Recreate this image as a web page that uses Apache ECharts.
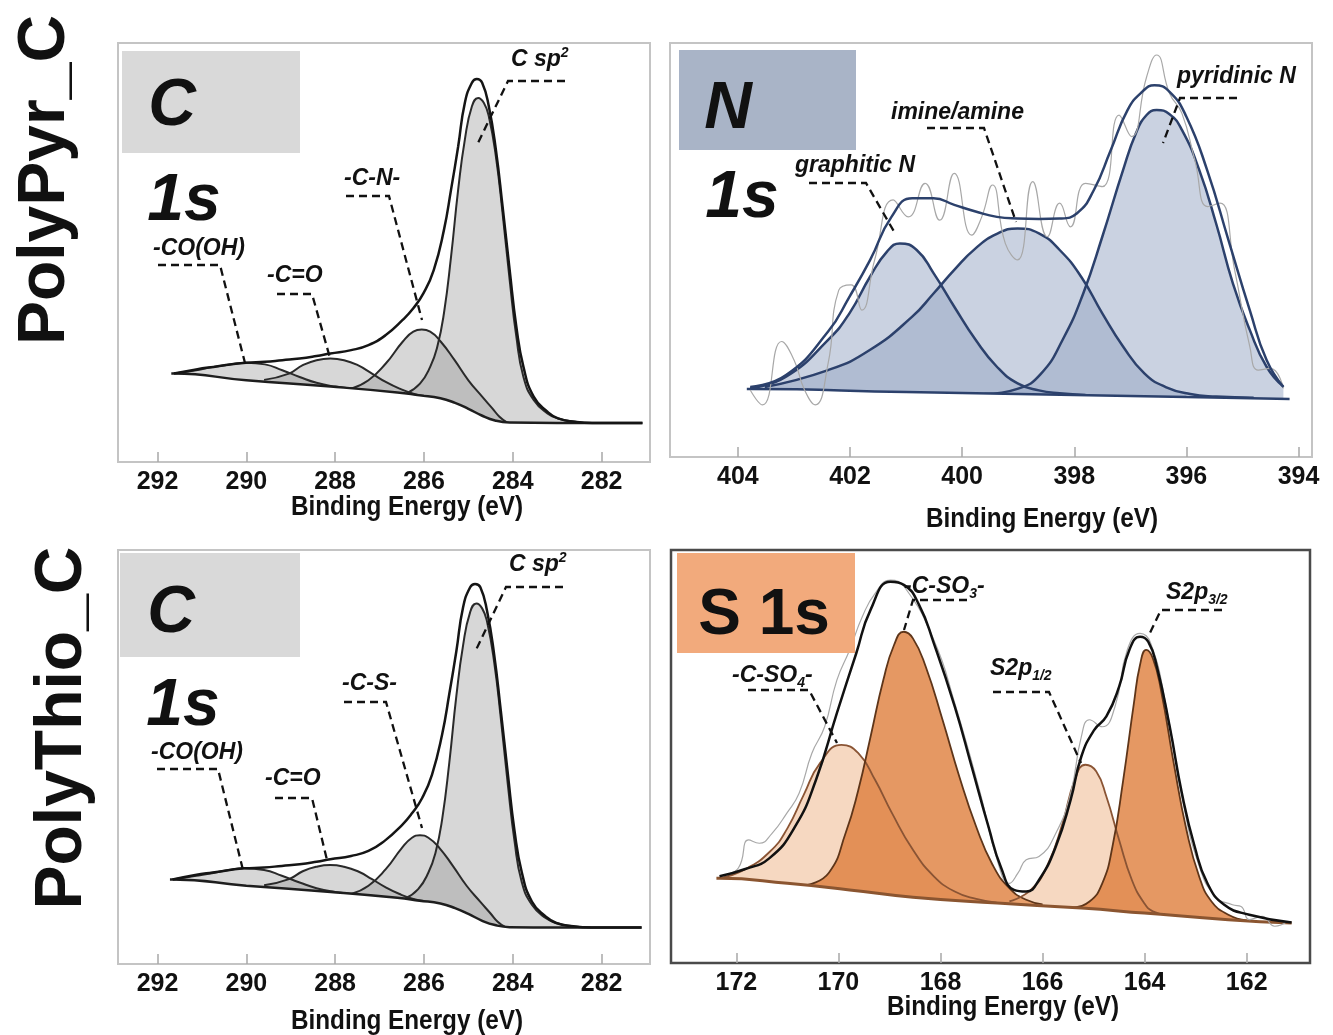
<!DOCTYPE html>
<html>
<head>
<meta charset="utf-8">
<title>XPS C1s / N1s / S2p</title>
<script src="https://cdn.jsdelivr.net/npm/echarts@6/dist/echarts.min.js"></script>
<style>
  html, body { margin: 0; padding: 0; background: #fff; }
  #chart { width: 1333px; height: 1035px; }
</style>
</head>
<body>
<div id="chart"></div>
<script>
// binding energy (eV) vs intensity (a.u., 0-100 of panel height)

const cTicks = [292, 290, 288, 286, 284, 282];
const nTicks = [404, 402, 400, 398, 396, 394];
const sTicks = [172, 170, 168, 166, 164, 162];

// PolyPyr_C  C 1s
const pyrC_bkg = [[291.69,21.1],[291.63,21.1],[290.0,19.5],[288.1,18.0],[286.6,16.6],[286.1,15.9],[285.63,15.2],[285.3,14.1],[285.0,12.7],[284.7,11.1],[284.4,9.9],[284.07,9.4],[283.0,9.3],[281.08,9.3]];
const pyrC_cooh = [[291.63,21.1],[291.13,21.9],[290.74,22.7],[290.36,23.3],[290.0,23.7],[289.58,23.3],[289.19,21.9],[288.8,20.3],[288.42,18.9],[288.0,18.0],[287.6,17.5],[287.2,17.1]];
const pyrC_co = [[289.6,19.6],[289.04,21.1],[288.73,23.1],[288.42,24.3],[288.11,24.7],[287.8,24.3],[287.49,23.1],[287.17,21.1],[286.86,19.1],[286.55,17.5],[286.24,16.3],[286.0,15.8]];
const pyrC_cn = [[287.64,17.5],[287.25,19.5],[286.86,23.5],[286.48,28.7],[286.24,31.1],[286.05,31.6],[285.86,31.1],[285.62,28.7],[285.31,24.3],[285.0,19.5],[284.69,15.6],[284.46,12.8],[284.3,10.8],[284.15,9.6]];
const pyrC_sp2 = [[286.4,16.3],[286.09,18.7],[285.86,22.7],[285.7,27.5],[285.55,35.5],[285.39,49.0],[285.23,65.0],[285.08,76.9],[284.92,84.9],[284.78,86.9],[284.65,85.7],[284.54,82.5],[284.38,72.9],[284.23,59.4],[284.07,43.4],[283.92,29.9],[283.76,20.3],[283.53,14.8],[283.22,11.6],[282.98,10.4],[282.6,9.6],[282.21,9.3]];
const pyrC_env = [[291.63,21.1],[291.13,22.1],[290.74,22.7],[290.01,23.7],[289.58,23.9],[289.19,24.3],[288.8,24.7],[288.42,25.3],[288.11,25.9],[287.64,26.7],[287.25,27.9],[286.86,30.3],[286.48,33.9],[286.24,36.7],[286.01,40.3],[285.78,45.8],[285.55,55.4],[285.39,65.0],[285.23,75.3],[285.08,85.7],[284.92,90.5],[284.81,91.4],[284.69,90.5],[284.54,84.9],[284.38,74.5],[284.23,61.0],[284.07,45.8],[283.92,32.3],[283.76,22.7],[283.53,15.6],[283.22,12.0],[282.98,10.4],[282.6,9.6],[282.21,9.3],[281.08,9.3]];

// PolyPyr_C  N 1s
const pyrN_bkg = [[403.84,16.4],[403.78,16.4],[401.0,15.7],[398.0,15.0],[396.0,14.5],[394.16,14.0]];
const pyrN_graph = [[403.78,16.6],[403.14,19.4],[402.39,28.3],[402.01,34.7],[401.64,43.6],[401.34,49.6],[401.11,51.6],[400.81,50.0],[400.51,44.4],[400.14,36.3],[399.76,28.3],[399.38,21.8],[399.01,17.8],[398.63,16.1],[398.26,15.4],[397.8,15.0]];
const pyrN_imine = [[403.52,16.9],[402.39,21.0],[401.64,25.9],[400.89,33.9],[400.51,39.5],[400.14,45.2],[399.76,50.4],[399.38,53.9],[399.01,55.2],[398.63,54.0],[398.26,50.0],[397.88,43.6],[397.5,34.7],[397.13,26.7],[396.75,20.2],[396.37,16.9],[395.93,15.2],[395.47,14.6],[394.8,14.3]];
const pyrN_pyrid = [[399.6,15.2],[399.0,16.5],[398.6,20.0],[398.2,28.5],[397.84,39.5],[397.5,53.2],[397.13,69.3],[396.9,78.2],[396.71,82.6],[396.53,83.8],[396.3,82.8],[396.08,79.0],[395.77,69.3],[395.47,56.4],[395.17,41.9],[394.87,30.7],[394.57,21.8],[394.27,17.0]];
const pyrN_env = [[403.78,16.9],[403.14,19.8],[402.39,30.3],[402.01,38.7],[401.64,47.6],[401.26,58.0],[400.89,62.5],[400.51,62.5],[400.14,60.9],[399.76,59.3],[399.38,58.0],[399.01,57.6],[398.63,57.5],[398.26,57.6],[397.95,58.9],[397.65,64.5],[397.35,74.1],[397.05,83.8],[396.79,88.2],[396.57,89.8],[396.3,88.2],[396.0,82.2],[395.63,69.3],[395.25,52.4],[394.87,35.5],[394.57,23.4],[394.27,16.9]];
const pyrN_raw = [[403.78,16.2],[403.56,12.6],[403.22,27.9],[403.0,23.5],[402.81,16.2],[402.62,12.6],[402.39,22.6],[402.2,40.3],[401.98,41.6],[401.79,35.5],[401.56,47.6],[401.23,62.1],[400.96,58.0],[400.66,66.1],[400.4,57.2],[400.14,68.5],[399.83,53.6],[399.65,58.0],[399.46,65.7],[399.23,51.6],[399.01,47.6],[398.74,66.5],[398.48,53.2],[398.26,61.3],[398.07,55.6],[397.8,66.1],[397.5,65.3],[397.2,82.6],[396.98,77.4],[396.71,91.8],[396.53,97.1],[396.3,87.8],[396.08,83.0],[395.85,71.7],[395.62,60.5],[395.4,61.3],[395.14,45.2],[394.87,26.7],[394.72,21.0],[394.5,21.4],[394.27,16.6]];

// PolyThio_C  C 1s
const thiC_bkg = [[291.72,20.4],[291.66,20.4],[290.0,18.9],[288.1,17.4],[286.6,16.0],[286.1,15.3],[285.63,14.6],[285.3,13.5],[285.0,12.1],[284.7,10.5],[284.4,9.4],[284.07,8.9],[283.0,8.8],[281.1,8.8]];
const thiC_cooh = [[291.66,20.4],[291.13,21.3],[290.74,22.0],[290.4,22.7],[290.05,23.1],[289.6,22.7],[289.2,21.3],[288.8,19.7],[288.42,18.3],[288.0,17.4],[287.6,16.9],[287.2,16.5]];
const thiC_co = [[289.6,19.0],[289.04,20.5],[288.73,22.4],[288.42,23.5],[288.11,23.9],[287.8,23.5],[287.49,22.4],[287.17,20.5],[286.86,18.5],[286.55,16.9],[286.24,15.7],[286.0,15.2]];
const thiC_cs = [[287.64,16.9],[287.25,18.9],[286.86,22.9],[286.5,28.0],[286.27,30.5],[286.09,31.1],[285.9,30.5],[285.65,28.0],[285.35,23.7],[285.04,18.9],[284.73,15.0],[284.5,12.2],[284.34,10.2],[284.18,9.0]];
const thiC_sp2 = [[286.44,15.7],[286.13,18.1],[285.9,22.1],[285.74,26.9],[285.59,35.0],[285.43,48.6],[285.27,64.8],[285.12,76.9],[284.96,85.0],[284.82,87.1],[284.69,85.9],[284.58,82.7],[284.42,73.0],[284.27,59.4],[284.11,43.2],[283.96,29.6],[283.8,19.9],[283.57,14.3],[283.26,11.1],[283.02,9.9],[282.64,9.1],[282.25,8.8]];
const thiC_env = [[291.66,20.4],[291.15,21.5],[290.76,22.1],[290.05,23.1],[289.6,23.3],[289.2,23.7],[288.8,24.1],[288.42,24.7],[288.11,25.3],[287.64,26.1],[287.25,27.3],[286.88,29.8],[286.5,33.5],[286.27,36.4],[286.04,40.1],[285.82,45.7],[285.59,55.5],[285.43,65.2],[285.27,75.6],[285.12,86.1],[284.96,91.0],[284.85,91.8],[284.73,91.0],[284.58,85.3],[284.42,74.8],[284.27,61.2],[284.11,45.8],[283.96,32.1],[283.8,22.3],[283.57,15.1],[283.26,11.5],[283.02,9.9],[282.64,9.1],[282.25,8.8],[281.1,8.8]];

// PolyThio_C  S 2p
const thiS_bkg = [[172.39,20.5],[172.33,20.5],[171.0,19.3],[169.78,17.7],[168.54,15.9],[166.89,14.5],[165.24,13.3],[164.01,12.1],[162.36,10.5],[161.12,9.7]];
const thiS_so4 = [[172.33,20.5],[171.84,22.6],[171.34,27.0],[171.0,32.6],[170.68,40.7],[170.36,48.4],[169.94,52.8],[169.61,50.8],[169.28,44.3],[168.95,36.3],[168.54,27.4],[168.13,21.0],[167.72,17.3],[167.3,15.5],[166.9,14.6]];
const thiS_so3 = [[170.6,18.9],[170.19,21.8],[169.86,31.4],[169.61,41.9],[169.37,54.8],[169.12,68.5],[168.91,77.0],[168.72,80.2],[168.54,78.6],[168.29,71.8],[167.96,58.9],[167.63,45.1],[167.3,33.0],[166.98,23.8],[166.65,18.1],[166.32,15.3],[166.0,14.2]];
const thiS_p12 = [[166.65,14.9],[166.23,17.7],[165.9,23.8],[165.61,33.8],[165.37,44.3],[165.16,48.0],[164.95,46.4],[164.75,40.3],[164.5,29.8],[164.25,20.1],[164.01,14.5],[163.84,12.5],[163.6,11.8]];
const thiS_p32 = [[165.41,13.4],[165.08,14.9],[164.83,19.3],[164.63,28.2],[164.42,44.3],[164.21,62.9],[164.09,72.2],[163.97,75.8],[163.84,73.8],[163.68,66.1],[163.43,48.4],[163.18,32.2],[162.93,20.9],[162.69,14.9],[162.36,11.7],[162.0,10.3]];
const thiS_env = [[172.33,21.0],[171.84,22.7],[171.35,25.4],[170.85,33.0],[170.44,44.3],[170.03,60.5],[169.65,75.0],[169.37,85.5],[168.98,92.3],[168.71,91.5],[168.42,86.7],[168.13,77.4],[167.72,62.1],[167.39,47.6],[167.06,33.0],[166.81,23.0],[166.56,17.7],[166.32,17.3],[166.07,20.1],[165.74,28.2],[165.45,39.5],[165.24,50.0],[164.99,56.4],[164.75,59.7],[164.5,66.9],[164.3,75.8],[164.09,79.0],[163.93,77.8],[163.76,71.8],[163.51,57.3],[163.27,41.1],[163.02,28.2],[162.77,19.3],[162.44,14.1],[161.95,11.7],[161.12,9.8]];
const thiS_raw = [[172.25,21.3],[171.96,23.0],[171.76,29.8],[171.55,29.0],[171.3,31.4],[171.01,36.3],[170.77,41.1],[170.52,50.8],[170.27,57.2],[170.03,68.5],[169.78,75.8],[169.53,83.9],[169.28,89.5],[168.98,92.7],[168.71,91.1],[168.13,78.2],[167.72,62.9],[167.22,41.1],[166.89,25.0],[166.65,19.3],[166.48,21.8],[166.32,25.0],[166.07,25.8],[165.74,31.4],[165.45,41.1],[165.24,54.8],[165.08,58.9],[164.83,57.2],[164.58,62.1],[164.34,75.8],[164.09,79.8],[163.88,77.4],[163.59,62.9],[163.27,40.3],[162.93,23.4],[162.61,16.1],[162.28,14.1],[162.11,13.7],[161.95,10.5],[161.7,11.3],[161.45,8.9],[161.2,10.1]];

// ---- chart ----
const SANS = '"Liberation Sans", Arial, sans-serif';

const panels = [
  { grid: { left: 118, top: 43, width: 532, height: 419 }, min: 280.91, max: 292.89, ticks: cTicks, border: '#c4c4c4', bw: 2 },
  { grid: { left: 670, top: 43, width: 642, height: 414 }, min: 393.76, max: 405.21, ticks: nTicks, border: '#c4c4c4', bw: 2 },
  { grid: { left: 118, top: 550, width: 532, height: 414 }, min: 280.91, max: 292.89, ticks: cTicks, border: '#c4c4c4', bw: 2 },
  { grid: { left: 671, top: 550, width: 639, height: 413 }, min: 160.76, max: 173.28, ticks: sTicks, border: '#4a4a4a', bw: 2.5 }
];

function curve(gi, data, color, width, fill, z) {
  const s = {
    type: 'line', xAxisIndex: gi, yAxisIndex: gi, data: data,
    symbol: 'none', smooth: 0.5, silent: true, z: z,
    lineStyle: { color: color, width: width }
  };
  if (fill) s.areaStyle = { color: fill, opacity: 1 };
  return s;
}

const grey = 'rgba(150,150,150,0.38)';
const blue = 'rgba(150,166,195,0.5)';
const peach = 'rgba(236,168,118,0.45)';
const orange = 'rgba(222,126,60,0.8)';

const series = [
  // C 1s PolyPyr
  curve(0, pyrC_cooh, '#2a2a2a', 2, grey, 2),
  curve(0, pyrC_co, '#2a2a2a', 2, grey, 2),
  curve(0, pyrC_cn, '#2a2a2a', 2, grey, 2),
  curve(0, pyrC_sp2, '#2a2a2a', 2, grey, 2),
  curve(0, pyrC_bkg, '#1e1e1e', 2.5, '#ffffff', 3),
  curve(0, pyrC_env, '#151515', 2.5, null, 5),
  // N 1s
  curve(1, pyrN_graph, '#2c416c', 2.5, blue, 2),
  curve(1, pyrN_imine, '#2c416c', 2.5, blue, 2),
  curve(1, pyrN_pyrid, '#2c416c', 2.5, blue, 2),
  curve(1, pyrN_bkg, '#2c416c', 2.5, '#ffffff', 3),
  curve(1, pyrN_raw, '#a8a8a8', 1.2, null, 4),
  curve(1, pyrN_env, '#2c416c', 2.5, null, 5),
  // C 1s PolyThio
  curve(2, thiC_cooh, '#2a2a2a', 2, grey, 2),
  curve(2, thiC_co, '#2a2a2a', 2, grey, 2),
  curve(2, thiC_cs, '#2a2a2a', 2, grey, 2),
  curve(2, thiC_sp2, '#2a2a2a', 2, grey, 2),
  curve(2, thiC_bkg, '#1e1e1e', 2.5, '#ffffff', 3),
  curve(2, thiC_env, '#151515', 2.5, null, 5),
  // S 2p
  curve(3, thiS_so4, '#8a5434', 1.8, peach, 2),
  curve(3, thiS_so3, '#5e3519', 1.8, orange, 2),
  curve(3, thiS_p12, '#8a5434', 1.8, peach, 2),
  curve(3, thiS_p32, '#5e3519', 1.8, orange, 2),
  curve(3, thiS_bkg, '#8b5530', 3, '#ffffff', 3),
  curve(3, thiS_raw, '#a8a8a8', 1.2, null, 4),
  curve(3, thiS_env, '#111111', 2.5, null, 5)
];

function txt(x, y, text, font, align, props) {
  return Object.assign({
    type: 'text', x: x, y: y, z: 100, silent: true,
    style: { text: text, font: font, fill: '#111', align: align, textAlign: align,
      verticalAlign: 'middle', textVerticalAlign: 'middle' }
  }, props || {});
}
function richTxt(x, y, text) {
  return {
    type: 'text', x: x, y: y, z: 100, silent: true,
    style: {
      text: text, fill: '#111', align: 'left', verticalAlign: 'middle',
      textAlign: 'left', textVerticalAlign: 'middle',
      rich: {
        a: { font: 'italic bold 23px ' + SANS, lineHeight: 28, fill: '#111' },
        sup: { font: 'italic bold 14px ' + SANS, lineHeight: 16, verticalAlign: 'top', fill: '#111' },
        sub: { font: 'italic bold 14px ' + SANS, lineHeight: 16, verticalAlign: 'bottom', fill: '#111' }
      }
    }
  };
}
function dash(points) {
  return {
    type: 'polyline', z: 100, silent: true, shape: { points: points },
    style: { stroke: '#111', lineWidth: 2.3, lineDash: [8, 5], fill: null }
  };
}
function box(x, y, w, h, color) {
  return { type: 'rect', z: 90, silent: true, shape: { x: x, y: y, width: w, height: h }, style: { fill: color } };
}

const big = 'italic bold 66px ' + SANS;
const axisNameFont = 'bold 27px ' + SANS;
const narrow = { scaleX: 0.9 };

const graphics = [
  txt(46, 180, 'PolyPyr_C', 'bold 66px ' + SANS, 'center', { rotation: Math.PI / 2 }),
  txt(63, 728, 'PolyThio_C', 'bold 66px ' + SANS, 'center', { rotation: Math.PI / 2 }),

  box(122, 51, 178, 102, '#d9d9d9'),
  txt(172, 107, 'C', big, 'center'),
  txt(184, 202, '1s', big, 'center'),
  box(679, 50, 177, 100, '#a9b4c7'),
  txt(728, 110, 'N', big, 'center'),
  txt(742, 199, '1s', big, 'center'),
  box(120, 553, 180, 104, '#d9d9d9'),
  txt(171, 614, 'C', big, 'center'),
  txt(183, 707, '1s', big, 'center'),
  box(677, 553, 178, 100, '#f2aa7c'),
  txt(764, 616, 'S 1s', 'bold 64px ' + SANS, 'center'),

  txt(407, 508, 'Binding Energy (eV)', axisNameFont, 'center', narrow),
  txt(1042, 520, 'Binding Energy (eV)', axisNameFont, 'center', narrow),
  txt(407, 1022, 'Binding Energy (eV)', axisNameFont, 'center', narrow),
  txt(1003, 1008, 'Binding Energy (eV)', axisNameFont, 'center', narrow),

  // panel 1 annotations
  richTxt(511, 60, '{a|C sp}{sup|2}'),
  dash([[565, 81], [508, 81], [477, 145]]),
  richTxt(344, 179, '{a|-C-N-}'),
  dash([[346, 196], [389, 196], [422, 320]]),
  richTxt(153, 249, '{a|-CO(OH)}'),
  dash([[158, 265], [220, 265], [246, 367]]),
  richTxt(267, 276, '{a|-C=O}'),
  dash([[277, 294], [312, 294], [330, 358]]),
  // panel 2
  richTxt(795, 166, '{a|graphitic N}'),
  dash([[809, 183], [866, 183], [896, 235]]),
  richTxt(891, 113, '{a|imine/amine}'),
  dash([[927, 128], [984, 128], [1016, 222]]),
  richTxt(1177, 77, '{a|pyridinic N}'),
  dash([[1237, 98], [1180, 98], [1163, 143]]),
  // panel 3
  richTxt(509, 565, '{a|C sp}{sup|2}'),
  dash([[563, 587], [506, 587], [475, 652]]),
  richTxt(342, 684, '{a|-C-S-}'),
  dash([[344, 702], [386, 702], [422, 828]]),
  richTxt(151, 753, '{a|-CO(OH)}'),
  dash([[157, 769], [218, 769], [243, 870]]),
  richTxt(265, 779, '{a|-C=O}'),
  dash([[275, 798], [312, 798], [327, 860]]),
  // panel 4
  richTxt(904, 587, '{a|-C-SO}{sub|3}{a|-}'),
  dash([[967, 600], [913, 600], [904, 630]]),
  richTxt(732, 676, '{a|-C-SO}{sub|4}{a|-}'),
  dash([[748, 690], [809, 690], [837, 743]]),
  richTxt(990, 669, '{a|S2p}{sub|1/2}'),
  dash([[993, 692], [1049, 692], [1081, 763]]),
  richTxt(1166, 593, '{a|S2p}{sub|3/2}'),
  dash([[1222, 610], [1161, 610], [1148, 637]])
];

const chart = echarts.init(document.getElementById('chart'), null, { renderer: 'canvas' });
chart.setOption({
  animation: false,
  backgroundColor: '#ffffff',
  grid: panels.map(p => Object.assign({
    show: true, borderColor: p.border, borderWidth: p.bw,
    backgroundColor: 'rgba(0,0,0,0)', z: 10, containLabel: false
  }, p.grid)),
  xAxis: panels.map((p, i) => ({
    gridIndex: i, type: 'value', inverse: true, min: p.min, max: p.max, z: 10,
    axisLine: { show: false },
    axisTick: { show: true, inside: true, length: 10, customValues: p.ticks, lineStyle: { color: '#a8a8a8', width: 1.5 } },
    axisLabel: { customValues: p.ticks, margin: 8, color: '#111', fontFamily: SANS, fontWeight: 'bold', fontSize: 25 },
    splitLine: { show: false }
  })),
  yAxis: panels.map((p, i) => ({ gridIndex: i, type: 'value', min: 0, max: 100, show: false })),
  series: series,
  graphic: { elements: graphics }
});
</script>
</body>
</html>
